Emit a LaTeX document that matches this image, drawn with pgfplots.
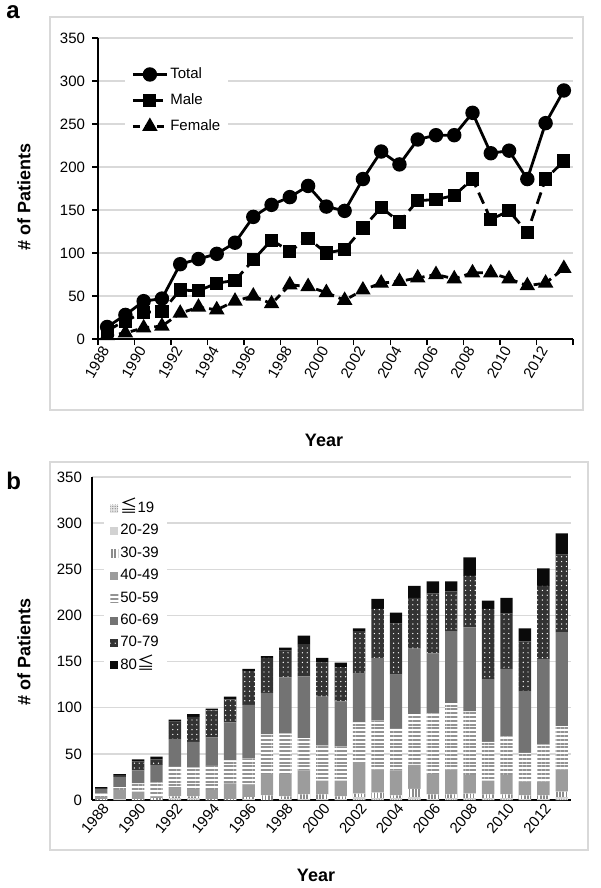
\documentclass[border=0pt]{standalone}
\usepackage{fontspec}
\setmainfont{Liberation Sans}
\newfontfamily\cjk[Scale=1.15]{Noto Sans CJK JP}
\usepackage{pgfplots}
\pgfplotsset{compat=1.18}
\usepackage{pgfplotstable}
\usetikzlibrary{patterns,patterns.meta}

\definecolor{gridc}{HTML}{D9D9D9}
\definecolor{framec}{HTML}{D9D9D9}
\definecolor{cA}{HTML}{E4E4E4}
\definecolor{cB}{HTML}{D2D2D2}
\definecolor{cC}{HTML}{8C8C8C}
\definecolor{cD}{HTML}{9C9C9C}
\definecolor{cE}{HTML}{939393}
\definecolor{cF}{HTML}{737373}
\definecolor{cG}{HTML}{333333}
\definecolor{cH}{HTML}{0A0A0A}

\pgfplotsset{/pgf/number format/.cd, assume math mode=true, 1000 sep={}}

\pgfplotstableread{
year total male female
1988 14 10 4
1989 28 21 7
1990 44 31 13
1991 47 32 15
1992 87 57 30
1993 93 56 37
1994 99 65 34
1995 112 68 44
1996 142 92 50
1997 156 115 41
1998 165 102 63
1999 178 117 61
2000 154 100 54
2001 149 104 45
2002 186 129 57
2003 218 153 65
2004 203 136 67
2005 232 161 71
2006 237 162 75
2007 237 167 70
2008 263 186 77
2009 216 139 77
2010 219 149 70
2011 186 124 62
2012 251 186 65
2013 289 207 82
}\sextable

\pgfplotstableread{
year s19 s20 s30 s40 s50 s60 s70 s80
1988 0 0 1 2 4 5 1 1
1989 0 1 0 10 3 11 2 1
1990 0 0 1 8 9 14 10 2
1991 0 0 2 2 15 19 6 3
1992 1 1 2 10 22 30 19 2
1993 1 1 2 8 23 28 27 3
1994 0 0 1 10 26 31 29 2
1995 0 0 1 17 25 41 25 3
1996 0 1 2 14 28 58 37 2
1997 0 0 5 23 43 45 38 2
1998 0 1 3 24 44 61 29 3
1999 0 1 5 26 35 67 35 9
2000 0 1 5 15 38 53 37 5
2001 0 1 3 17 37 49 37 5
2002 1 2 4 34 43 53 46 3
2003 1 1 6 25 53 68 53 11
2004 1 1 3 27 45 59 55 12
2005 1 2 9 26 55 71 55 13
2006 0 1 5 22 66 65 65 13
2007 1 1 4 27 72 78 43 11
2008 1 1 5 20 69 91 56 20
2009 1 1 4 15 42 68 76 9
2010 1 1 4 21 42 73 60 17
2011 0 1 4 15 31 67 54 14
2012 0 1 4 15 40 93 79 19
2013 2 1 6 24 47 102 84 23
}\agetable

\begin{document}
\begin{tikzpicture}
\useasboundingbox (0,0) rectangle (300pt,-444pt);
\draw[framec, line width=0.8pt] (25pt,-8.5pt) rectangle (291.5pt,-205pt);
\draw[framec, line width=0.8pt] (25pt,-231pt) rectangle (294pt,-425pt);
\node[anchor=north west, font=\bfseries\fontsize{12}{14}\selectfont, inner sep=0pt] at (3pt,-2.5pt) {a};
\node[anchor=north west, font=\bfseries\fontsize{12}{14}\selectfont, inner sep=0pt] at (3pt,-236pt) {b};
\node[rotate=90, font=\bfseries\fontsize{9}{11}\selectfont] at (12pt,-98.5pt) {\# of Patients};
\node[font=\bfseries\fontsize{9}{11}\selectfont] at (162pt,-220pt) {Year};
\node[rotate=90, font=\bfseries\fontsize{9}{11}\selectfont] at (12pt,-326pt) {\# of Patients};
\node[font=\bfseries\fontsize{9}{11}\selectfont] at (158pt,-437.5pt) {Year};

% Panel a
\begin{axis}[
  at={(49pt,-169.5pt)}, anchor=south west, scale only axis,
  width=237.5pt, height=150.5pt,
  xmin=1987.5, xmax=2013.5, ymin=0, ymax=350,
  axis x line*=bottom, axis y line*=left,
  axis line style={-, line width=0.9pt, black},
  ytick={0,50,...,350}, ymajorgrids,
  grid style={gridc, line width=0.7pt},
  xtick={1988,1990,...,2012},
  major x tick style={draw=none},
  minor xtick={1987.5,1989.5,...,2013.5},
  minor tick length=3pt, major tick length=3pt, tick align=outside,
  tick style={black, line width=0.7pt},
  tick label style={font=\fontsize{7.5}{9}\selectfont},
  xticklabel style={rotate=60, anchor=east, inner sep=1.5pt},
  legend style={at={(0.057,0.93)}, anchor=north west, draw=none, fill=white,
    font=\fontsize{7.5}{9}\selectfont, row sep=4pt, inner xsep=3pt, inner ysep=3pt,
    nodes={inner sep=1pt, text height=5.5pt, text depth=1.5pt},
    cells={anchor=west}},
  legend image code/.code={\draw[#1, mark repeat=2, mark phase=2] plot coordinates {(0pt,0pt) (8.5pt,0pt) (17pt,0pt)};},
]
\addplot[black, line width=1.4pt, mark=*, mark size=2.9pt] table[x=year,y=total]{\sextable};
\addplot[black, line width=1.4pt, dash pattern=on 6pt off 3pt, mark=square*, mark size=2.6pt, mark options={solid}] table[x=year,y=male]{\sextable};
\addplot[black, line width=1.4pt, dash pattern=on 3.5pt off 2.5pt, mark=triangle*, mark size=3.1pt, mark options={solid}] table[x=year,y=female]{\sextable};
\legend{Total,Male,Female}
\end{axis}

% Panel b
\begin{axis}[
  at={(46pt,-400pt)}, anchor=south west, scale only axis,
  width=239.5pt, height=161.5pt,
  ybar stacked, bar width=6.2pt,
  xmin=1987.5, xmax=2013.5, ymin=0, ymax=350,
  axis x line*=bottom, axis y line*=left,
  axis line style={-, line width=0.9pt, black},
  ytick={0,50,...,350}, ymajorgrids,
  grid style={gridc, line width=0.7pt},
  xtick={1988,1990,...,2012},
  xtick style={draw=none}, ytick style={draw=none},
  tick label style={font=\fontsize{7.5}{9}\selectfont},
  yticklabel style={xshift=-1.5pt},
  xticklabel style={rotate=50, anchor=east, inner sep=0.5pt, yshift=-3.5pt},
  legend style={at={(0.025,0.95)}, anchor=north west, draw=none, fill=white,
    font=\fontsize{7.5}{9}\selectfont, row sep=2.2pt, inner xsep=3pt, inner ysep=3pt,
    nodes={inner sep=1pt, text height=5.5pt, text depth=1.5pt},
    cells={anchor=west}},
  legend image code/.code={\draw[#1, draw=none] (0pt,-2pt) rectangle (4pt,2pt);},
]
\addplot[draw=none, fill=cA, postaction={pattern={Dots[distance=1.2pt, radius=0.3pt]}, pattern color=gray}] table[x=year,y=s19]{\agetable};
\addplot[draw=none, fill=cB] table[x=year,y=s20]{\agetable};
\addplot[draw=none, fill=white, postaction={pattern={Lines[angle=90, distance=1.6pt, line width=0.8pt]}, pattern color=cC}] table[x=year,y=s30]{\agetable};
\addplot[draw=none, fill=cD] table[x=year,y=s40]{\agetable};
\addplot[draw=none, fill=white, postaction={pattern={Lines[angle=0, distance=1.9pt, line width=1.05pt]}, pattern color=cE}] table[x=year,y=s50]{\agetable};
\addplot[draw=none, fill=cF] table[x=year,y=s60]{\agetable};
\addplot[draw=none, fill=cG, postaction={pattern={Dots[distance=2.4pt, radius=0.35pt]}, pattern color=white}] table[x=year,y=s70]{\agetable};
\addplot[draw=none, fill=cH] table[x=year,y=s80]{\agetable};
\legend{{\cjk ≦}19,20-29,30-39,40-49,50-59,60-69,70-79,80{\cjk ≦}}
\end{axis}
\end{tikzpicture}
\end{document}
